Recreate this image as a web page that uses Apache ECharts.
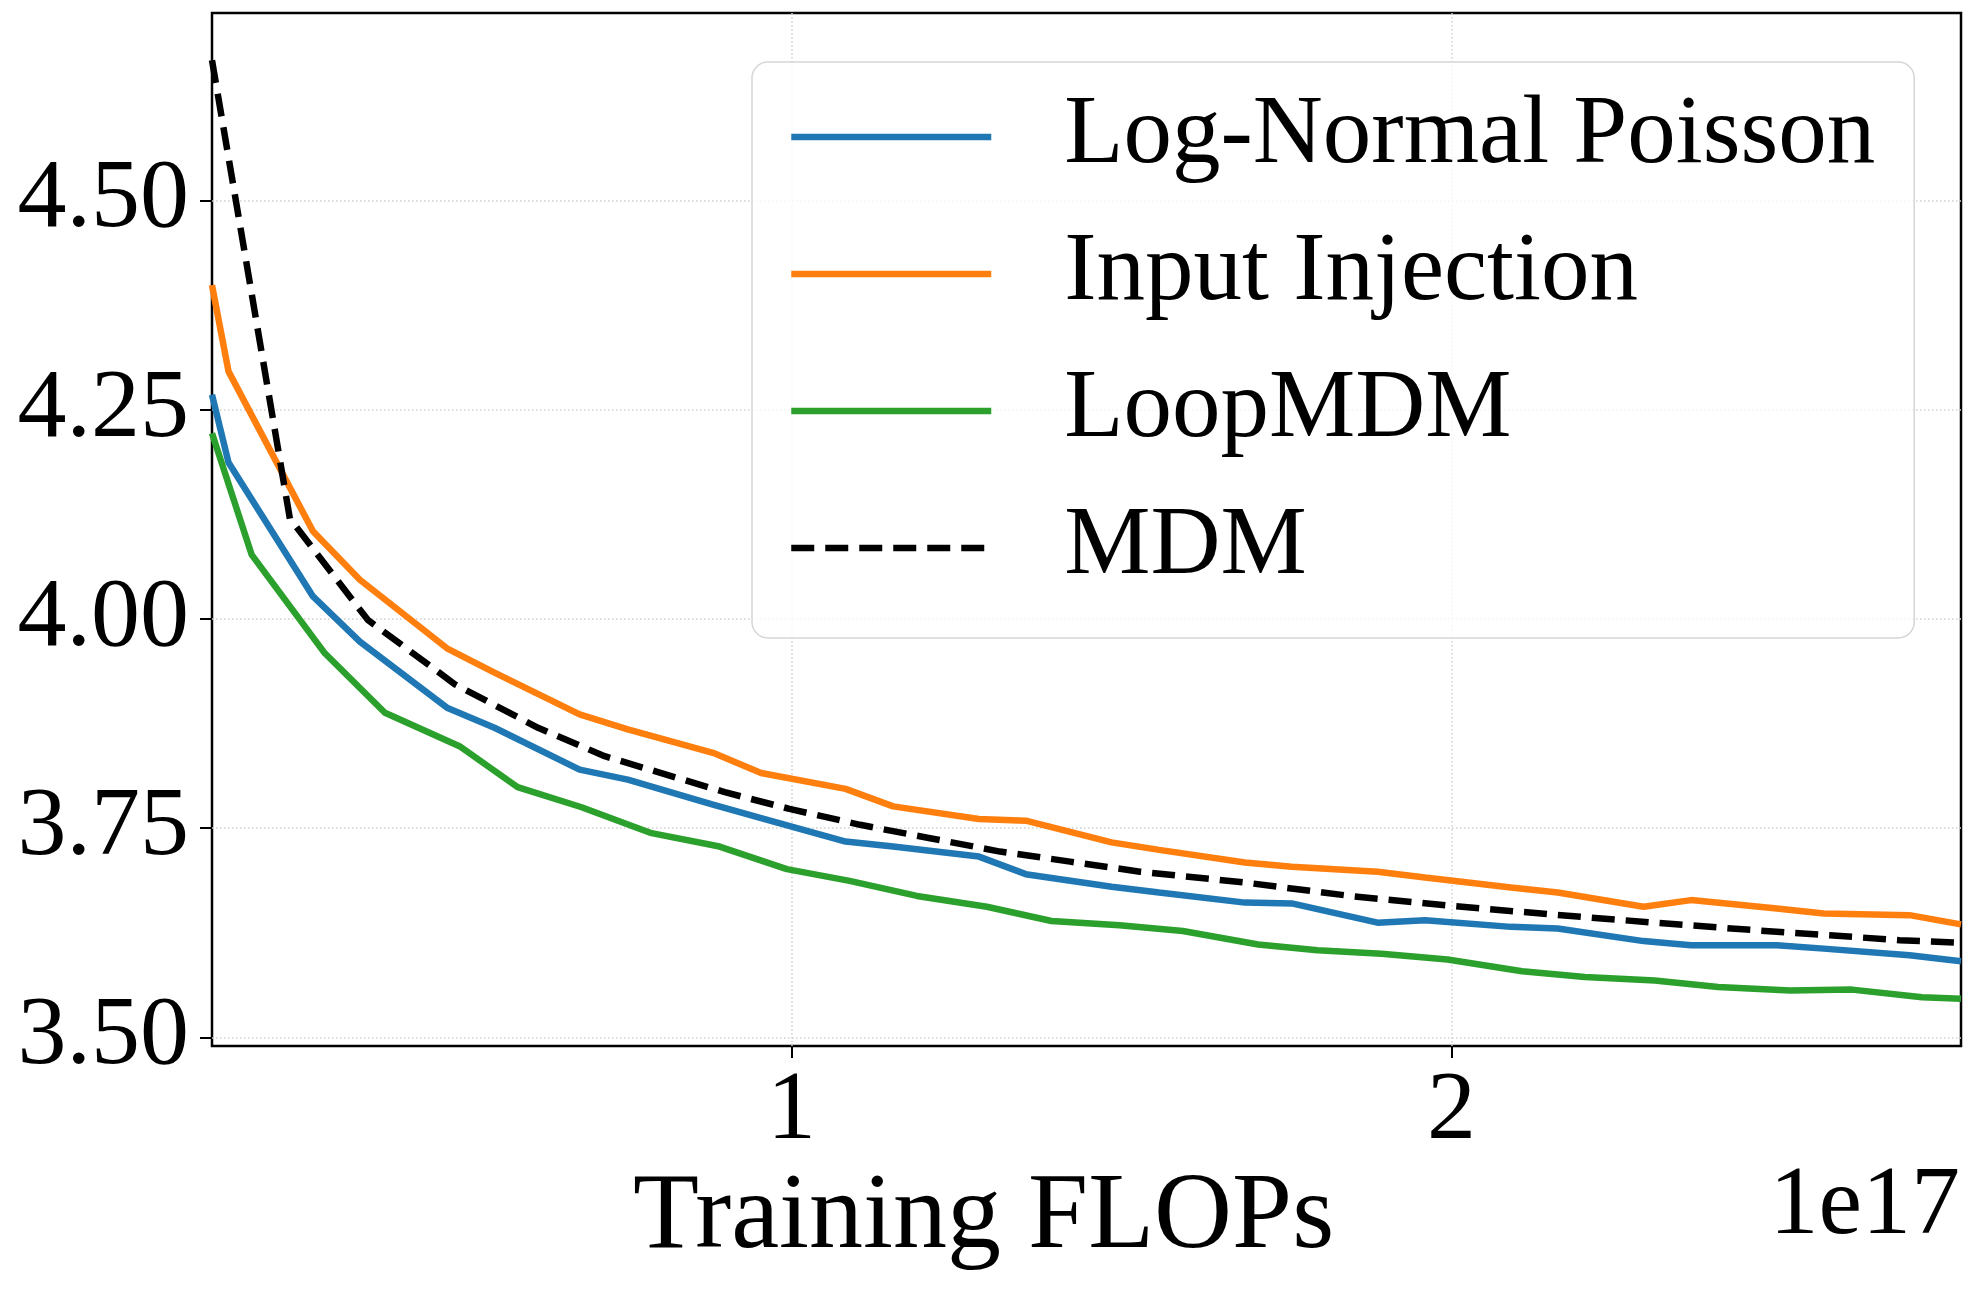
<!DOCTYPE html>
<html>
<head>
<meta charset="utf-8">
<script src="https://cdn.jsdelivr.net/npm/echarts@6/dist/echarts.min.js"></script>
<style>
body{margin:0;background:#fff;}
#main{width:1975px;height:1292px;}
</style>
</head>
<body>
<div id="main"></div>
<script>
// x in units of 1e17 FLOPs
var xsMain = [0.122, 0.147, 0.275, 0.346, 0.478, 0.550, 0.679, 0.752, 0.881, 0.954, 1.082, 1.154, 1.284, 1.355,
  1.485, 1.557, 1.687, 1.758, 1.888, 1.960, 2.090, 2.161, 2.291, 2.363, 2.493, 2.564, 2.694, 2.772];
var logNormal = [4.268, 4.187, 4.027, 3.973, 3.894, 3.870, 3.820, 3.808, 3.778, 3.762, 3.734, 3.728, 3.716, 3.695,
  3.680, 3.673, 3.661, 3.660, 3.637, 3.640, 3.632, 3.630, 3.615, 3.610, 3.610, 3.606, 3.598, 3.591];
var inputInj = [4.399, 4.296, 4.105, 4.047, 3.965, 3.936, 3.886, 3.868, 3.840, 3.816, 3.797, 3.776, 3.761, 3.759,
  3.733, 3.724, 3.709, 3.704, 3.698, 3.691, 3.679, 3.673, 3.656, 3.664, 3.654, 3.648, 3.646, 3.635];

var xsLoop = [0.122, 0.182, 0.293, 0.384, 0.497, 0.585, 0.682, 0.788, 0.891, 0.993, 1.088, 1.190, 1.296, 1.394,
  1.497, 1.593, 1.707, 1.797, 1.894, 1.994, 2.107, 2.202, 2.308, 2.404, 2.513, 2.607, 2.713, 2.772];
var loopMdm = [4.222, 4.077, 3.959, 3.888, 3.848, 3.799, 3.775, 3.744, 3.728, 3.701, 3.687, 3.669, 3.656, 3.639,
  3.634, 3.627, 3.611, 3.604, 3.600, 3.593, 3.579, 3.572, 3.568, 3.560, 3.556, 3.557, 3.548, 3.546];

var xsMdm = [0.122, 0.240, 0.358, 0.490, 0.616, 0.717, 0.899, 0.997, 1.104, 1.210, 1.316, 1.422, 1.528, 1.687,
  1.846, 2.001, 2.149, 2.308, 2.460, 2.573, 2.679, 2.772];
var mdm = [4.668, 4.120, 3.999, 3.922, 3.870, 3.836, 3.793, 3.773, 3.754, 3.738, 3.722, 3.710, 3.698, 3.685,
  3.669, 3.657, 3.647, 3.637, 3.628, 3.622, 3.616, 3.613];

var xTicks = [1, 2];
var yTicks = [3.5, 3.75, 4.0, 4.25, 4.5];

function pairs(xs, ys) {
  return xs.map(function (x, i) { return [x, ys[i]]; });
}

var FONT = 'Liberation Serif, Times New Roman, serif';
var chart = echarts.init(document.getElementById('main'));

chart.setOption({
  animation: false,
  grid: {
    left: 212, right: 14, top: 13, bottom: 246,
    show: true, borderColor: '#000', borderWidth: 2.5, backgroundColor: 'transparent'
  },
  xAxis: {
    type: 'value',
    min: 0.122,
    max: 2.772,
    axisLine: { show: false },
    axisTick: { show: true, customValues: xTicks, length: 12, lineStyle: { color: '#000', width: 2 } },
    axisLabel: {
      customValues: xTicks, margin: 17, color: '#000', fontFamily: FONT, fontSize: 98,
      formatter: function (v) { return String(v); }
    },
    splitLine: { show: true, lineStyle: { color: '#cfcfcf', width: 1.5, type: [1.5, 2.5] } }
  },
  yAxis: {
    type: 'value',
    min: 3.4896,
    max: 4.7244,
    axisLine: { show: false },
    axisTick: { show: true, customValues: yTicks, length: 12, lineStyle: { color: '#000', width: 2 } },
    axisLabel: {
      customValues: yTicks, margin: 23, color: '#000', fontFamily: FONT, fontSize: 98,
      formatter: function (v) { return v.toFixed(2); }
    },
    splitLine: { show: true, lineStyle: { color: '#cfcfcf', width: 1.5, type: [1.5, 2.5] } }
  },
  legend: {
    orient: 'vertical',
    left: 752,
    top: 62,
    itemWidth: 200,
    itemHeight: 14,
    itemGap: 27,
    padding: [20, 39, 35, 36],
    backgroundColor: 'rgba(255,255,255,0.8)',
    borderColor: '#d6d6d6',
    borderWidth: 1.5,
    borderRadius: 16,
    itemStyle: { opacity: 0, borderWidth: 0 },
    lineStyle: { width: 6.5 },
    textStyle: { fontFamily: FONT, fontSize: 97, color: '#000', lineHeight: 110, padding: [0, 0, 0, 68] },
    data: ['Log-Normal Poisson', 'Input Injection', 'LoopMDM', 'MDM']
  },
  graphic: [
    {
      type: 'text', x: 633, y: 1219,
      style: { text: 'Training FLOPs', fontFamily: FONT, fontSize: 108, fill: '#000', align: 'left', verticalAlign: 'middle' }
    },
    {
      type: 'text', x: 1960, y: 1207,
      style: { text: '1e17', fontFamily: FONT, fontSize: 98, fill: '#000', align: 'right', verticalAlign: 'middle' }
    }
  ],
  series: [
    {
      name: 'Log-Normal Poisson', type: 'line', symbol: 'none',
      lineStyle: { color: '#1f77b4', width: 6.5 }, itemStyle: { color: '#1f77b4' },
      data: pairs(xsMain, logNormal)
    },
    {
      name: 'Input Injection', type: 'line', symbol: 'none',
      lineStyle: { color: '#ff7f0e', width: 6.5 }, itemStyle: { color: '#ff7f0e' },
      data: pairs(xsMain, inputInj)
    },
    {
      name: 'LoopMDM', type: 'line', symbol: 'none',
      lineStyle: { color: '#2ca02c', width: 6.5 }, itemStyle: { color: '#2ca02c' },
      data: pairs(xsLoop, loopMdm)
    },
    {
      name: 'MDM', type: 'line', symbol: 'none',
      lineStyle: { color: '#000', width: 6.5, type: [23, 11], cap: 'butt' }, itemStyle: { color: '#000' },
      data: pairs(xsMdm, mdm)
    }
  ]
});
</script>
</body>
</html>
